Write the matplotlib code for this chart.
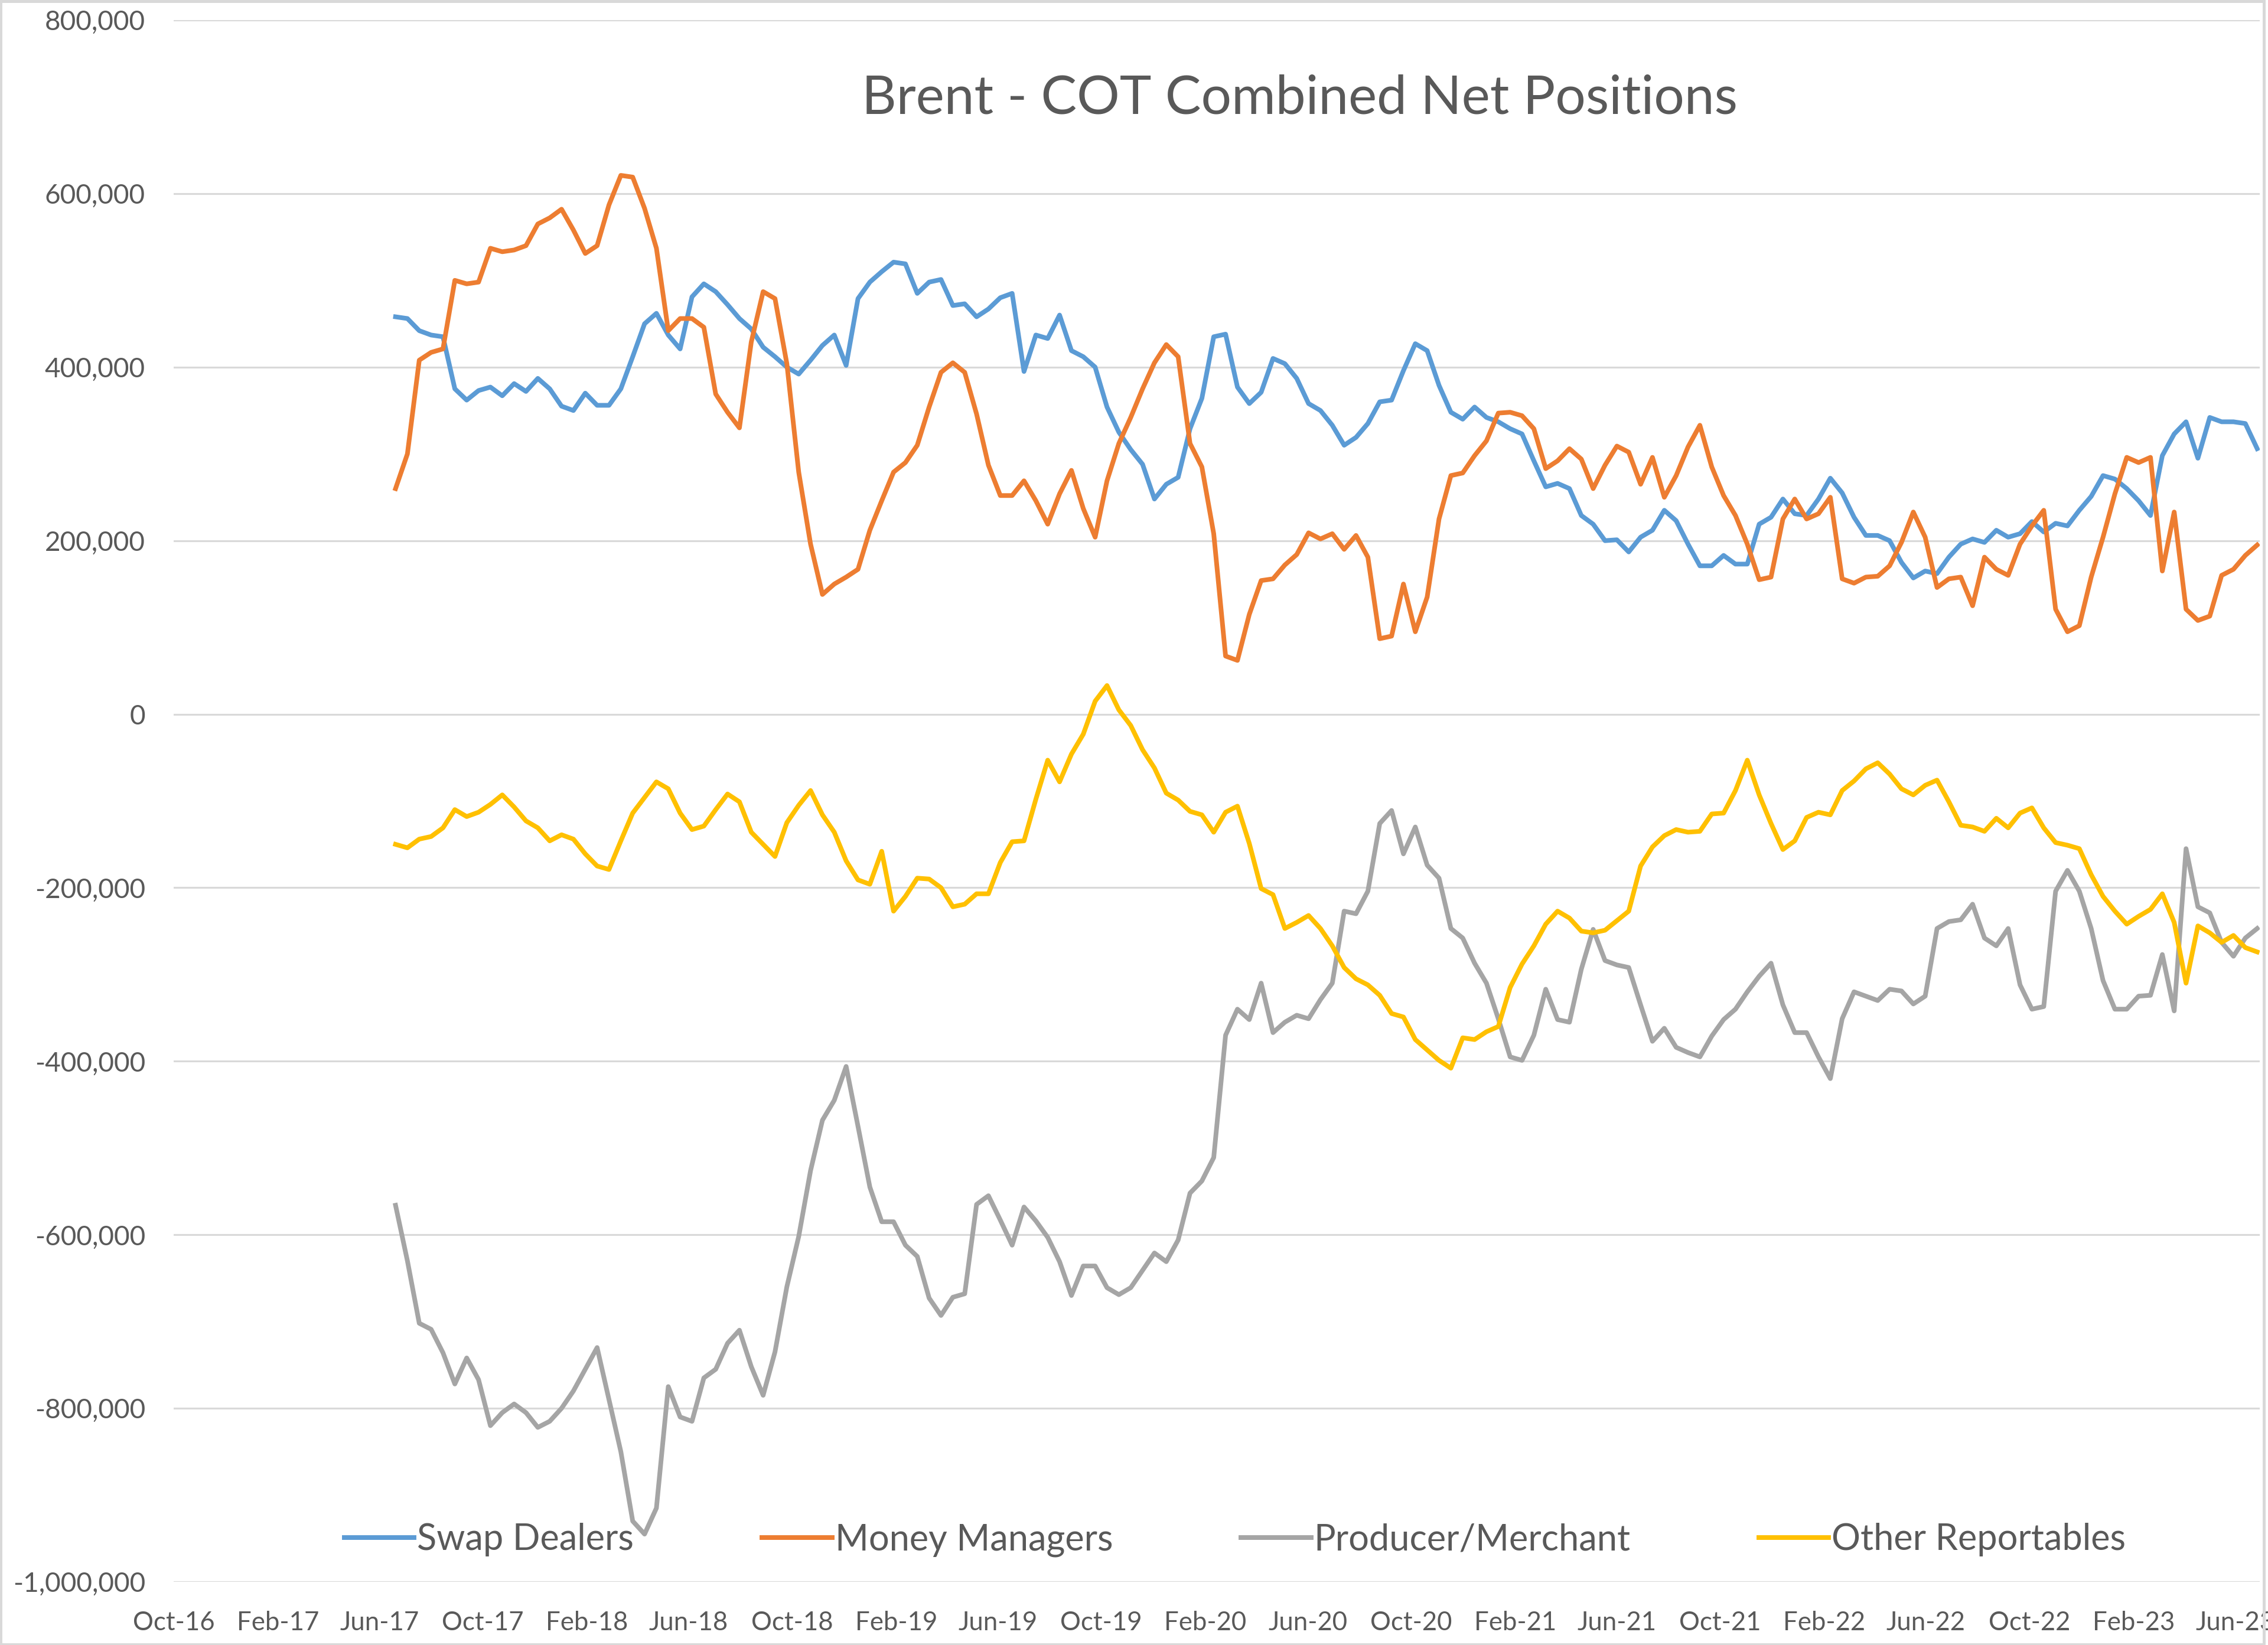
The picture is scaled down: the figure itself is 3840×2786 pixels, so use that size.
import numpy as np
import pandas as pd
import matplotlib
matplotlib.use("Agg")
import matplotlib.pyplot as plt
from matplotlib.ticker import FuncFormatter
from matplotlib.patches import Rectangle

# report dates (every second weekly COT report), Jun-17 .. Jun-23
dates = pd.date_range("2017-06-20", periods=158, freq="14D")

# net positions, thousands of contracts
swap_dealers = [
    458, 456, 442, 437, 435, 375, 362, 373, 377, 367,
    381, 372, 387, 375, 355, 350, 370, 356, 356, 375,
    412, 450, 462, 437, 421, 481, 496, 487, 472, 456,
    444, 423, 412, 400, 392, 408, 425, 437, 402, 479,
    498, 510, 521, 519, 485, 498, 501, 471, 473, 458,
    467, 480, 485, 395, 437, 433, 460, 419, 412, 400,
    354, 325, 305, 288, 248, 265, 273, 329, 364, 435,
    438, 377, 358, 371, 410, 404, 387, 358, 350, 333,
    310, 319, 335, 360, 362, 396, 427, 419, 379, 348,
    340, 354, 342, 337, 329, 323, 292, 262, 266, 260,
    229, 219, 200, 201, 187, 204, 212, 235, 223, 196,
    171, 171, 183, 173, 173, 219, 227, 248, 231, 229,
    248, 272, 255, 227, 206, 206, 200, 175, 157, 165,
    162, 181, 196, 202, 198, 212, 204, 208, 222, 210,
    220, 217, 235, 251, 275, 271, 260, 246, 229, 298,
    323, 337, 295, 342, 337, 337, 335, 306,
]
money_managers = [
    260, 300, 408, 417, 421, 500, 496, 498, 537, 533,
    535, 540, 565, 572, 582, 558, 531, 540, 587, 621,
    619, 583, 537, 442, 456, 456, 446, 369, 348, 330,
    429, 487, 479, 404, 279, 196, 138, 150, 158, 167,
    212, 246, 279, 290, 310, 354, 394, 405, 394, 346,
    287, 252, 252, 269, 246, 219, 254, 281, 237, 204,
    269, 312, 342, 375, 405, 426, 412, 312, 285, 208,
    67, 62, 115, 154, 156, 172, 184, 209, 202, 208,
    190, 206, 181, 87, 90, 150, 95, 135, 225, 275,
    278, 298, 315, 347, 348, 344, 329, 283, 292, 306,
    294, 260, 287, 309, 302, 265, 296, 250, 275, 308,
    333, 285, 252, 229, 196, 155, 158, 225, 248, 225,
    231, 250, 156, 151, 158, 159, 171, 198, 233, 204,
    146, 156, 158, 125, 181, 167, 160, 196, 217, 235,
    121, 95, 102, 158, 204, 254, 296, 290, 296, 165,
    233, 121, 108, 113, 160, 167, 183, 195,
]
producer_merchant = [
    -566, -630, -702, -709, -736, -772, -742, -767, -820, -805,
    -795, -805, -822, -815, -800, -780, -755, -730, -790, -850,
    -930, -945, -915, -775, -810, -815, -765, -755, -725, -710,
    -752, -785, -735, -660, -602, -526, -468, -445, -406, -475,
    -545, -585, -585, -612, -625, -673, -693, -672, -668, -565,
    -555, -583, -612, -568, -584, -603, -631, -670, -636, -636,
    -661, -669, -661, -641, -621, -631, -606, -552, -538, -511,
    -370, -340, -352, -310, -367, -355, -347, -351, -329, -310,
    -227, -230, -204, -126, -111, -161, -130, -174, -189, -247,
    -258, -287, -310, -351, -395, -399, -370, -317, -352, -355,
    -294, -248, -284, -289, -292, -335, -377, -362, -384, -390,
    -395, -371, -352, -340, -320, -302, -287, -335, -367, -367,
    -395, -420, -351, -320, -325, -330, -317, -319, -334, -325,
    -247, -239, -237, -219, -258, -267, -247, -312, -340, -337,
    -204, -180, -204, -247, -307, -340, -340, -325, -324, -277,
    -342, -155, -222, -229, -263, -279, -258, -247,
]
other_reportables = [
    -150, -154, -144, -141, -131, -110, -118, -113, -104, -93,
    -107, -123, -131, -146, -139, -144, -161, -175, -179, -146,
    -114, -96, -78, -86, -114, -133, -129, -110, -92, -101,
    -136, -150, -164, -125, -105, -88, -116, -136, -169, -191,
    -196, -158, -227, -210, -189, -190, -200, -222, -219, -207,
    -207, -171, -147, -146, -98, -53, -78, -46, -23, 15,
    33, 5, -13, -41, -62, -91, -99, -112, -116, -136,
    -113, -106, -149, -201, -208, -247, -240, -232, -247, -267,
    -292, -305, -312, -324, -345, -349, -375, -387, -399, -408,
    -373, -375, -366, -360, -315, -288, -267, -242, -227, -235,
    -250, -252, -249, -238, -227, -175, -153, -140, -133, -136,
    -135, -115, -114, -88, -53, -93, -126, -156, -146, -119,
    -113, -116, -88, -77, -63, -56, -69, -86, -93, -82,
    -76, -101, -128, -130, -135, -120, -131, -114, -108, -131,
    -148, -151, -155, -185, -210, -227, -242, -233, -225, -207,
    -240, -310, -244, -252, -263, -255, -269, -274,
]

series = [
    ("Swap Dealers", swap_dealers, "#5B9BD5"),
    ("Money Managers", money_managers, "#ED7D31"),
    ("Producer/Merchant", producer_merchant, "#A5A5A5"),
    ("Other Reportables", other_reportables, "#FFC000"),
]

y_ticks = np.arange(-1000000, 800001, 200000)
x_ticks = pd.date_range("2016-10-01", "2023-06-01", freq="4MS")

TEXT = "#595959"
GRID = "#D9D9D9"
plt.rcParams["font.family"] = ["Lato", "DejaVu Sans"]

W, H = 3840, 2786
fig = plt.figure(figsize=(W / 300, H / 300), dpi=300)
ax = fig.add_axes([294 / W, 1 - 2679 / H, (3826 - 294) / W, (2679 - 34) / H])

for name, vals, color in series:
    ax.plot(dates, np.array(vals) * 1000, color=color, lw=1.9, label=name,
            solid_joinstyle="round", zorder=3)

ax.set_xlim(pd.Timestamp("2016-10-01"), pd.Timestamp("2023-06-30"))
ax.set_ylim(-1000000, 800000)
ax.set_yticks(y_ticks)
ax.set_xticks(x_ticks)
ax.set_xticklabels([d.strftime("%b-%y") for d in x_ticks])
ax.yaxis.set_major_formatter(FuncFormatter(lambda v, p: f"{v:,.0f}"))
ax.grid(axis="y", color=GRID, lw=0.75)
ax.set_axisbelow(True)
for s in ax.spines.values():
    s.set_visible(False)
ax.tick_params(axis="both", length=0, labelcolor=TEXT)
ax.tick_params(axis="y", pad=11.5, labelsize=11)
ax.tick_params(axis="x", pad=11.8, labelsize=10.5)

ax.text(0.573, 0.940, "Brent - COT Combined Net Positions", transform=fig.transFigure,
        ha="center", va="center", fontsize=21.8, color=TEXT)

leg = ax.legend(loc="center left", bbox_to_anchor=(583 / W, 1 - 2608 / H),
                bbox_transform=fig.transFigure, ncol=4, frameon=False,
                fontsize=14.7, labelcolor=TEXT, handlelength=1.93,
                handletextpad=0.08, columnspacing=3.55, borderpad=0,
                borderaxespad=0)

# light chart border
fig.patches.append(Rectangle((1 / W, 1 / H), 3832 / W, (H - 3) / H,
                             transform=fig.transFigure, fill=False,
                             edgecolor=GRID, lw=1.2))

fig.savefig("out.png", dpi=300)
